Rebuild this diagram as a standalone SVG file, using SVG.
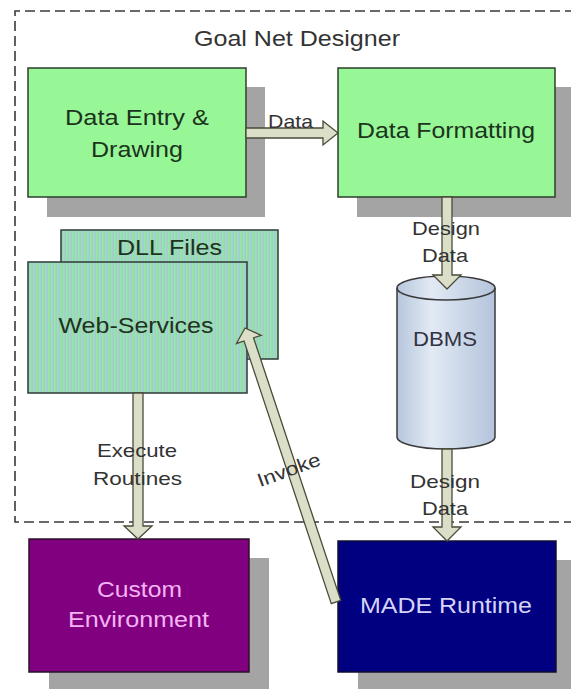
<svg xmlns="http://www.w3.org/2000/svg" width="571" height="689" viewBox="0 0 571 689">
  <style>
    text { font-family: "Liberation Sans", Arial, sans-serif; text-anchor: middle; }
    .frame { fill: none; stroke: #3a3a3a; stroke-width: 1.6; stroke-dasharray: 10 5; }
    .shadow { fill: #a4a4a4; }
    .green { fill: #97f797; stroke: #2e3e2e; stroke-width: 1.5; }
    .backing { fill: #9edcb8; }
    .striped { fill: url(#stripes); stroke: #2e3a3a; stroke-width: 1.5; }
    .purple { fill: #800080; stroke: #2a102a; stroke-width: 1.5; }
    .navy { fill: #000080; stroke: #101030; stroke-width: 1.5; }
    .db { fill: url(#dbShade); stroke: #3a3a3a; stroke-width: 1.5; }
    .flow { fill: #dcdfc8; stroke: #4a4a3a; stroke-width: 1.3; stroke-linejoin: miter; }
    .t-dark { fill: #1c331c; font-size: 22px; }
    .t-label { fill: #333333; font-size: 19px; }
    .t-title { fill: #333333; font-size: 22px; }
    .t-pink { fill: #f4b4f4; font-size: 22px; }
    .t-lav { fill: #d4d4fa; font-size: 22px; }
  </style>
  <defs>
    <pattern id="stripes" width="3" height="10" patternUnits="userSpaceOnUse">
      <rect x="0" y="0" width="3" height="10" fill="#8fec98"/>
      <rect x="1.5" y="0" width="1.5" height="10" fill="#aac6dc"/>
    </pattern>
    <linearGradient id="dbShade" x1="0" y1="0" x2="1" y2="0">
      <stop offset="0" stop-color="#b6c6dc"/>
      <stop offset="0.35" stop-color="#e2eaf4"/>
      <stop offset="1" stop-color="#b4c4dc"/>
    </linearGradient>
  </defs>

  <rect width="571" height="689" fill="#ffffff"/>

  <!-- designer boundary -->
  <g id="boundary">
    <path class="frame" d="M575,11 H15 V522 H575"/>
    <text class="t-title" x="297" y="46" textLength="206" lengthAdjust="spacingAndGlyphs">Goal Net Designer</text>
  </g>

  <g id="data-entry">
    <rect class="shadow" x="47" y="87" width="218" height="130"/>
    <rect class="green" x="28" y="68" width="218" height="129"/>
    <text class="t-dark" x="137" y="125" textLength="144" lengthAdjust="spacingAndGlyphs">Data Entry &amp;</text>
    <text class="t-dark" x="137" y="157" textLength="92" lengthAdjust="spacingAndGlyphs">Drawing</text>
  </g>

  <g id="data-formatting">
    <rect class="shadow" x="357" y="87" width="220" height="130"/>
    <rect class="green" x="338" y="68" width="217" height="129"/>
    <text class="t-dark" x="446" y="138" textLength="178" lengthAdjust="spacingAndGlyphs">Data Formatting</text>
  </g>

  <g id="dll-files">
    <rect class="backing" x="61" y="230" width="217" height="129"/>
    <rect class="striped" x="61" y="230" width="217" height="129"/>
    <text class="t-dark" x="169.5" y="255" textLength="105" lengthAdjust="spacingAndGlyphs">DLL Files</text>
  </g>

  <g id="web-services">
    <rect class="backing" x="28" y="262" width="219" height="131"/>
    <rect class="striped" x="28" y="262" width="219" height="131"/>
    <text class="t-dark" x="136" y="333" textLength="155" lengthAdjust="spacingAndGlyphs">Web-Services</text>
  </g>

  <g id="dbms">
    <path class="db" d="M397,288 A49,12 0 0 1 495,288 L495,437 A49,12 0 0 1 397,437 Z"/>
    <path d="M397,288 A49,12 0 0 0 495,288" fill="none" stroke="#3a3a3a" stroke-width="1.5"/>
    <text x="445" y="346" font-size="21" fill="#333344" textLength="64" lengthAdjust="spacingAndGlyphs">DBMS</text>
  </g>

  <g id="custom-environment">
    <rect class="shadow" x="49" y="558" width="220" height="135"/>
    <rect class="purple" x="29" y="539" width="220" height="133"/>
    <text class="t-pink" x="139.5" y="597" textLength="85" lengthAdjust="spacingAndGlyphs">Custom</text>
    <text class="t-pink" x="138.5" y="627" textLength="141" lengthAdjust="spacingAndGlyphs">Environment</text>
  </g>

  <g id="made-runtime">
    <rect class="shadow" x="358" y="560" width="220" height="135"/>
    <rect class="navy" x="338" y="541" width="218" height="131"/>
    <text class="t-lav" x="446" y="613" textLength="172" lengthAdjust="spacingAndGlyphs">MADE Runtime</text>
  </g>

  <!-- block arrows and their labels -->
  <g id="connectors">
    <polygon class="flow" points="246,128 323,128 323,121 338,133 323,145 323,138 246,138"/>
    <text class="t-label" x="290.5" y="128" font-size="18" textLength="45" lengthAdjust="spacingAndGlyphs">Data</text>

    <polygon class="flow" points="442,197 442,275 433,275 447,289 461,275 452,275 452,197"/>
    <text class="t-label" x="446" y="235" textLength="68" lengthAdjust="spacingAndGlyphs">Design</text>
    <text class="t-label" x="445" y="262" textLength="46" lengthAdjust="spacingAndGlyphs">Data</text>

    <polygon class="flow" points="442,449 442,527 433,527 447,541 461,527 452,527 452,449"/>
    <text class="t-label" x="445" y="488" textLength="70" lengthAdjust="spacingAndGlyphs">Design</text>
    <text class="t-label" x="445" y="515" textLength="46" lengthAdjust="spacingAndGlyphs">Data</text>

    <polygon class="flow" points="133,393 133,526 124,526 138,539 152,526 143,526 143,393"/>
    <text class="t-label" x="137" y="457" textLength="80" lengthAdjust="spacingAndGlyphs">Execute</text>
    <text class="t-label" x="137.5" y="485" textLength="89" lengthAdjust="spacingAndGlyphs">Routines</text>

    <polygon class="flow" points="331.25,603.58 244.03,340.97 236.44,343.49 245,328 261.12,335.29 253.53,337.81 340.75,600.42"/>
    <text class="t-label" x="0" y="0" textLength="66" lengthAdjust="spacingAndGlyphs" transform="translate(291,476) rotate(-20)">Invoke</text>
  </g>
</svg>
